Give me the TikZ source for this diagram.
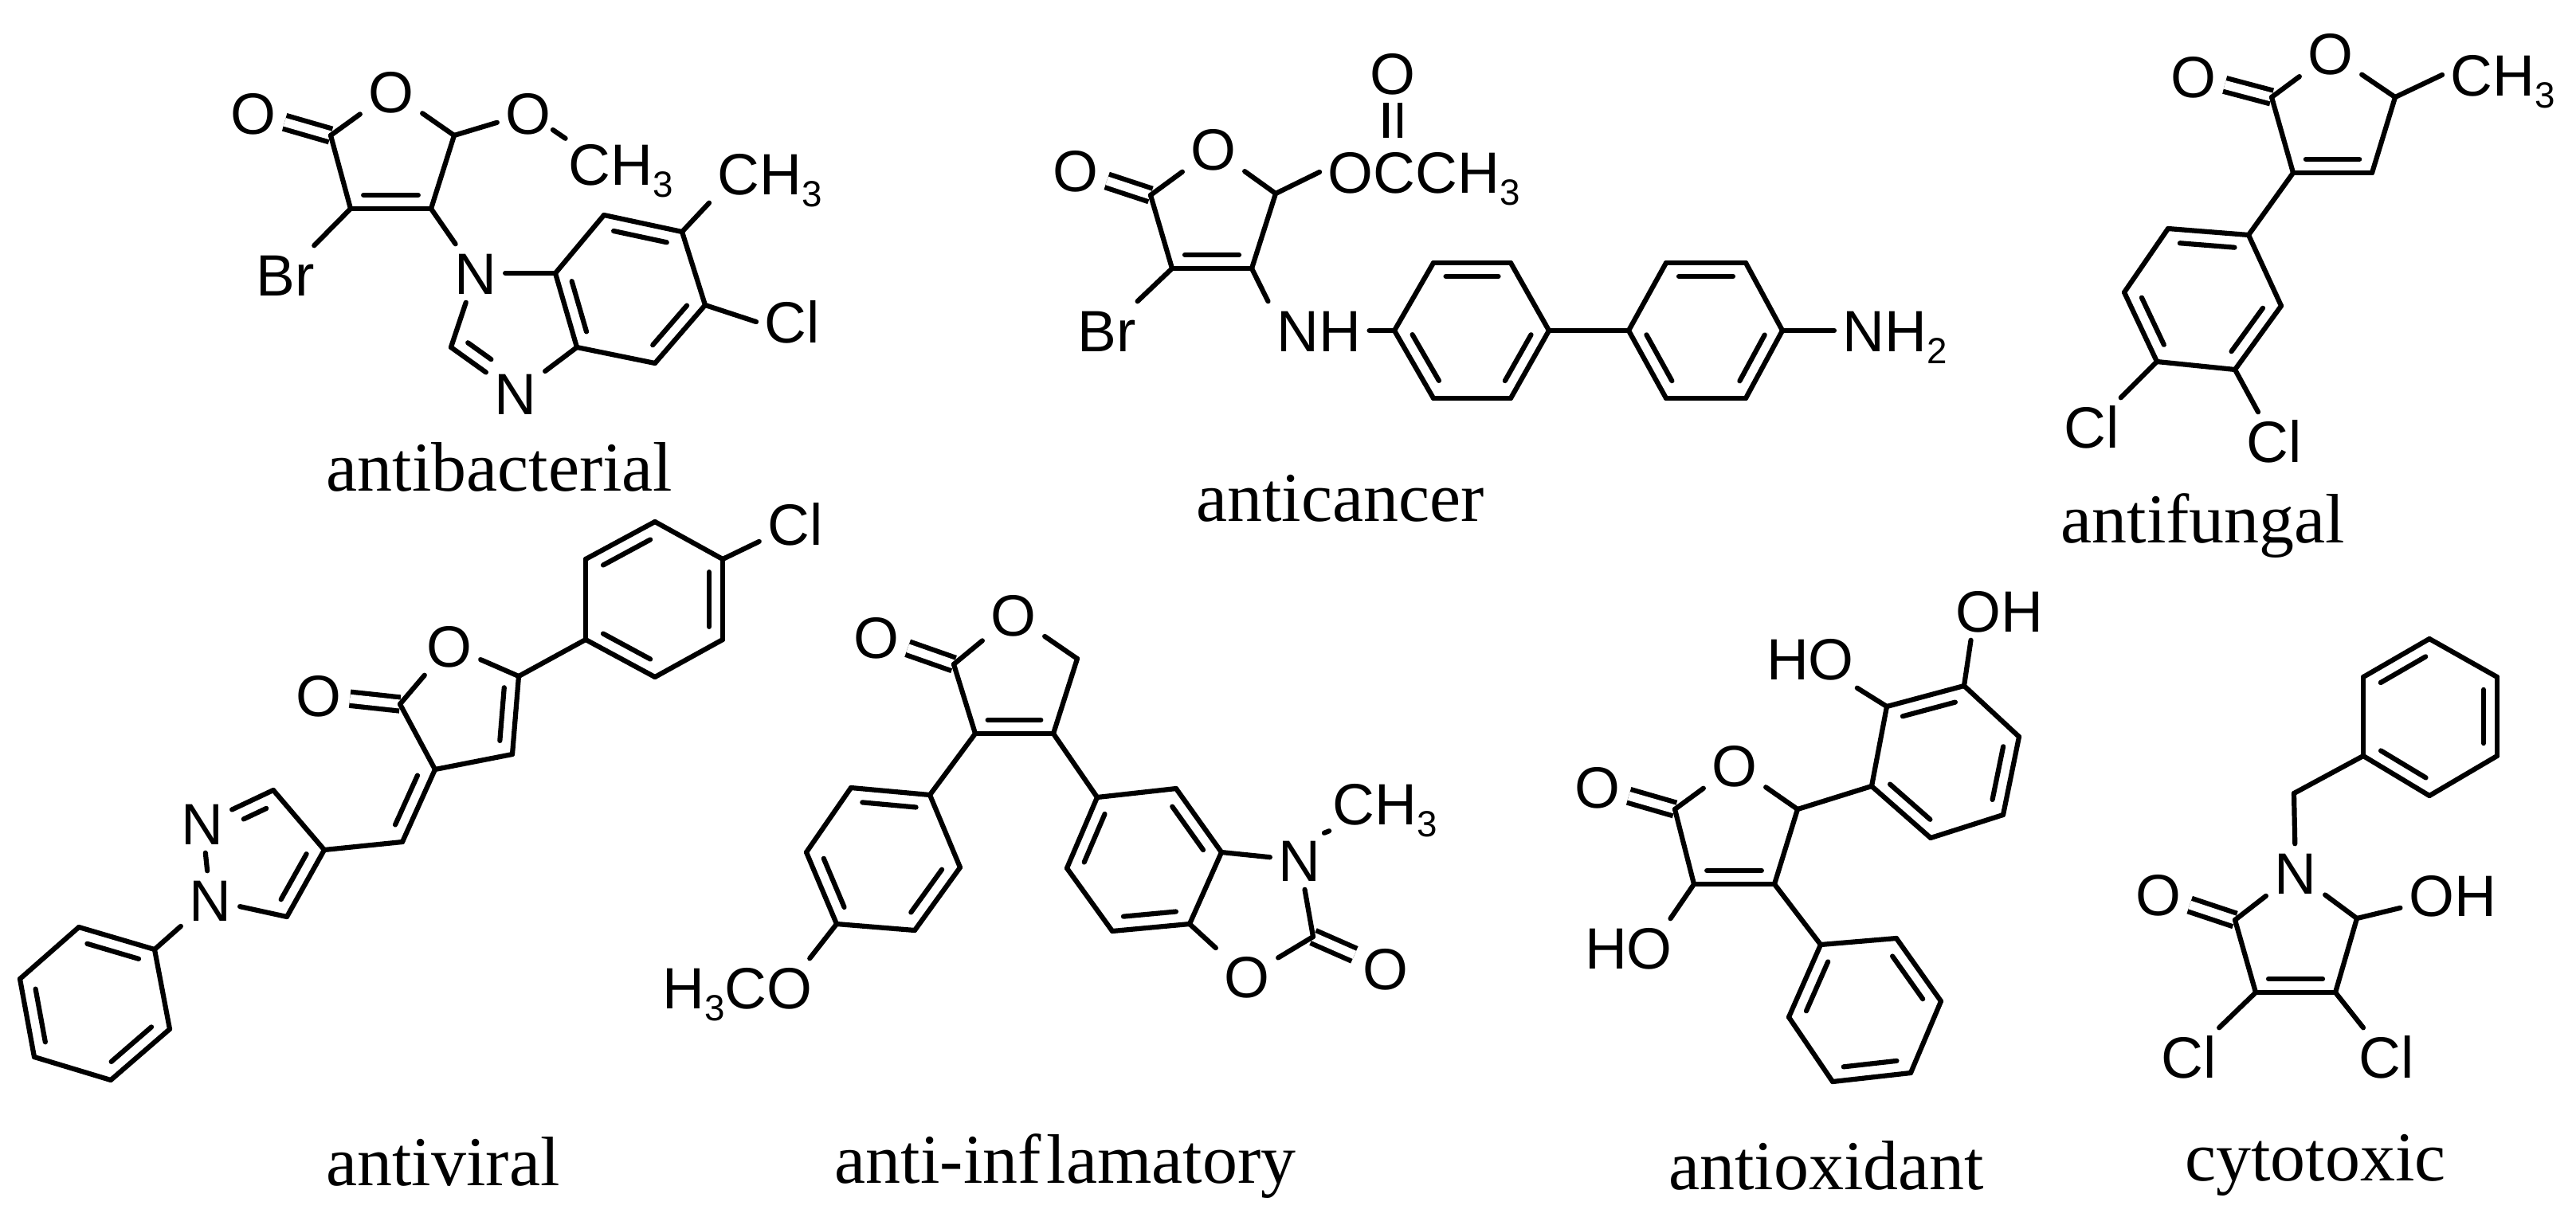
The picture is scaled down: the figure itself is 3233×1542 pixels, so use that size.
\documentclass[tikz,border=0pt]{standalone}
\usepackage{fontspec}
\setmainfont{Liberation Serif}
\newfontfamily\atomfont{Liberation Sans}
\usetikzlibrary{calc}
\newcommand{\atsub}[1]{\raisebox{-4.5pt}{\fontsize{13}{13}\selectfont #1}}
\newcommand{\inbondat}[4]{\draw ($(#3)!#1!(#4)!0.17cm!90:(#4)$) to ($(#4)!#2!(#3)!0.17cm!-90:(#3)$);}
\newcommand{\inbond}[2]{\inbondat{.16}{.16}{#1}{#2}}
\tikzset{
  atom/.style={font=\atomfont\fontsize{20.8}{22}\selectfont,inner sep=0.1cm,text height=14.8pt,text depth=0pt},
  lab/.style={font=\fontsize{25}{28}\selectfont,inner sep=0pt,anchor=base},
  bond/.style={line width=0.062cm,line cap=round},
  keto/.style={double,double distance=0.11cm,line cap=butt}
}
\begin{document}
\begin{tikzpicture}[x=0.01cm,y=-0.01cm]
  \useasboundingbox (0,0) rectangle (3233,1542);
  % antibacterial
  \draw
    (318,142) node[atom] (a1){O}
    (415,170) coordinate (a2)
    (491,115) node[atom] (a3){O}
    (570,170) coordinate (a4)
    (663,142) node[atom] (a5){O}
    (703,206) node[atom,anchor=west] (a6){CH\atsub{3}}
    (541,262) coordinate (a7)
    (440,262) coordinate (a8)
    (358,345) node[atom] (a9){Br}
    (597,343) node[atom] (a10){N}
    (697,343) coordinate (a11)
    (758,270) coordinate (a12)
    (856,291) coordinate (a13)
    (890,218) node[atom,anchor=west] (a14){CH\atsub{3}}
    (885,383) coordinate (a15)
    (949,404) node[atom,anchor=west] (a16){Cl}
    (822,456) coordinate (a17)
    (724,436) coordinate (a18)
    (647,494) node[atom] (a19){N}
    (566,436) coordinate (a20)
    (627,616) node[lab] (a21){antibacterial};
  \begin{scope}[bond]
    \draw[keto] (a1) to (a2);
    \draw (a2) to (a3);
    \draw (a3) to (a4);
    \draw (a4) to (a5);
    \draw[shorten <=-0.1cm,shorten >=-0.08cm] (a5) to (a6.north west);
    \draw (a4) to (a7);
    \draw (a7) to (a8);
    \draw (a8) to (a2);
    \draw (a8) to (a9);
    \draw (a7) to (a10);
    \draw (a10) to (a11);
    \draw (a11) to (a12);
    \draw (a12) to (a13);
    \draw (a13) to (a14.south west);
    \draw (a13) to (a15);
    \draw (a15) to (a16.west);
    \draw (a15) to (a17);
    \draw (a17) to (a18);
    \draw (a18) to (a11);
    \draw (a18) to (a19);
    \draw (a19) to (a20);
    \draw (a20) to (a10);
    \inbond{a8}{a7}
    \inbond{a11}{a18}
    \inbond{a17}{a15}
    \inbond{a13}{a12}
    \inbondat{.14}{.5}{a20}{a19}
  \end{scope}
  % anticancer
  \draw
    (1748,92) node[atom] (b1){O}
    (1748,173) coordinate (b2)
    (1350,214) node[atom] (b3){O}
    (1444,245) coordinate (b4)
    (1523,187) node[atom] (b5){O}
    (1601,243) coordinate (b6)
    (1656,216) node[atom,anchor=west] (b7){OCCH\atsub{3}}
    (1571,337) coordinate (b8)
    (1471,337) coordinate (b9)
    (1389,415) node[atom] (b10){Br}
    (1655,415) node[atom] (b11){NH}
    (1750,415) coordinate (b12)
    (1799,500) coordinate (b13)
    (1896,500) coordinate (b14)
    (1944,415) coordinate (b15)
    (1896,330) coordinate (b16)
    (1799,330) coordinate (b17)
    (2044,415) coordinate (b18)
    (2091,500) coordinate (b19)
    (2191,500) coordinate (b20)
    (2237,415) coordinate (b21)
    (2191,330) coordinate (b22)
    (2091,330) coordinate (b23)
    (2302,415) node[atom,anchor=west] (b24){NH\atsub{2}}
    (1682,654) node[lab] (b25){anticancer};
  \begin{scope}[bond]
    \draw[keto] (b1) to (b2);
    \draw[keto] (b3) to (b4);
    \draw (b4) to (b5);
    \draw (b5) to (b6);
    \draw (b6) to (b7.west);
    \draw (b6) to (b8);
    \draw (b8) to (b9);
    \draw (b9) to (b4);
    \draw (b9) to (b10);
    \draw (b8) to (b11.north west);
    \draw (b11) to (b12);
    \draw (b12) to (b13);
    \draw (b13) to (b14);
    \draw (b14) to (b15);
    \draw (b15) to (b16);
    \draw (b16) to (b17);
    \draw (b17) to (b12);
    \draw (b15) to (b18);
    \draw (b18) to (b19);
    \draw (b19) to (b20);
    \draw (b20) to (b21);
    \draw (b21) to (b22);
    \draw (b22) to (b23);
    \draw (b23) to (b18);
    \draw (b21) to (b24.west);
    \inbond{b9}{b8}
    \inbond{b12}{b13}
    \inbond{b14}{b15}
    \inbond{b16}{b17}
    \inbond{b18}{b19}
    \inbond{b20}{b21}
    \inbond{b22}{b23}
  \end{scope}
  % antifungal
  \draw
    (2753,96) node[atom] (c1){O}
    (2851,122) coordinate (c2)
    (2925,67) node[atom] (c3){O}
    (3006,122) coordinate (c4)
    (3065,94) node[atom,anchor=west] (c5){CH\atsub{3}}
    (2977,217) coordinate (c6)
    (2878,217) coordinate (c7)
    (2822,295) coordinate (c8)
    (2721,287) coordinate (c9)
    (2666,367) coordinate (c10)
    (2707,454) coordinate (c11)
    (2805,464) coordinate (c12)
    (2863,384) coordinate (c13)
    (2625,536) node[atom] (c14){Cl}
    (2854,554) node[atom] (c15){Cl}
    (2765,681) node[lab] (c16){antifungal};
  \begin{scope}[bond]
    \draw[keto] (c1) to (c2);
    \draw (c2) to (c3);
    \draw (c3) to (c4);
    \draw (c4) to (c5.west);
    \draw (c4) to (c6);
    \draw (c6) to (c7);
    \draw (c7) to (c2);
    \draw (c7) to (c8);
    \draw (c8) to (c9);
    \draw (c9) to (c10);
    \draw (c10) to (c11);
    \draw (c11) to (c12);
    \draw (c12) to (c13);
    \draw (c13) to (c8);
    \draw (c11) to (c14);
    \draw (c12) to (c15);
    \inbond{c7}{c6}
    \inbond{c8}{c9}
    \inbond{c10}{c11}
    \inbond{c12}{c13}
  \end{scope}
  % antiviral
  \draw
    (998,658) node[atom] (d1){Cl}
    (907,702) coordinate (d2)
    (822,655) coordinate (d3)
    (735,702) coordinate (d4)
    (735,803) coordinate (d5)
    (822,850) coordinate (d6)
    (907,803) coordinate (d7)
    (651,849) coordinate (d8)
    (564,811) node[atom] (d9){O}
    (502,884) coordinate (d10)
    (400,873) node[atom] (d11){O}
    (546,966) coordinate (d12)
    (643,947) coordinate (d13)
    (505,1057) coordinate (d14)
    (407,1067) coordinate (d15)
    (343,992) coordinate (d16)
    (254,1034) node[atom] (d17){N}
    (264,1130) node[atom] (d18){N}
    (360,1151) coordinate (d19)
    (194,1192) coordinate (d20)
    (99,1164) coordinate (d21)
    (25,1229) coordinate (d22)
    (43,1327) coordinate (d23)
    (139,1356) coordinate (d24)
    (213,1292) coordinate (d25)
    (556,1488) node[lab] (d26){antiviral};
  \begin{scope}[bond]
    \draw[keto] (d11) to (d10);
    \draw (d1) to (d2);
    \draw (d2) to (d3);
    \draw (d3) to (d4);
    \draw (d4) to (d5);
    \draw (d5) to (d6);
    \draw (d6) to (d7);
    \draw (d7) to (d2);
    \draw (d5) to (d8);
    \draw (d8) to (d9);
    \draw (d9) to (d10);
    \draw (d10) to (d12);
    \draw (d12) to (d13);
    \draw (d13) to (d8);
    \draw (d12) to (d14);
    \draw (d14) to (d15);
    \draw (d15) to (d16);
    \draw (d16) to (d17);
    \draw (d17) to (d18);
    \draw (d18) to (d19);
    \draw (d19) to (d15);
    \draw (d18) to (d20);
    \draw (d20) to (d21);
    \draw (d21) to (d22);
    \draw (d22) to (d23);
    \draw (d23) to (d24);
    \draw (d24) to (d25);
    \draw (d25) to (d20);
    \inbond{d3}{d4}
    \inbond{d5}{d6}
    \inbond{d7}{d2}
    \inbond{d13}{d8}
    \inbond{d14}{d12}
    \inbondat{.18}{.5}{d16}{d17}
    \inbond{d19}{d15}
    \inbond{d20}{d21}
    \inbond{d22}{d23}
    \inbond{d24}{d25}
  \end{scope}
  % anti-inflamatory
  \draw
    (1100,800) node[atom] (e1){O}
    (1197,834) coordinate (e2)
    (1272,772) node[atom] (e3){O}
    (1352,827) coordinate (e4)
    (1322,921) coordinate (e5)
    (1224,921) coordinate (e6)
    (1167,998) coordinate (e7)
    (1068,989) coordinate (e8)
    (1012,1070) coordinate (e9)
    (1050,1160) coordinate (e10)
    (1148,1168) coordinate (e11)
    (1205,1089) coordinate (e12)
    (1030,1240) node[atom,anchor=east] (e13){H\atsub{3}CO}
    (1377,1001) coordinate (e14)
    (1476,990) coordinate (e15)
    (1533,1070) coordinate (e16)
    (1493,1160) coordinate (e17)
    (1396,1169) coordinate (e18)
    (1339,1090) coordinate (e19)
    (1631,1080) node[atom] (e20){N}
    (1662,1009) node[atom,anchor=west] (e21){CH\atsub{3}}
    (1565,1226) node[atom] (e22){O}
    (1648,1176) coordinate (e23)
    (1739,1216) node[atom] (e24){O}
    (1337,1485) node[lab] (e25){anti-inf\kern2pt lamatory};
  \begin{scope}[bond]
    \draw[keto] (e1) to (e2);
    \draw[keto] (e24) to (e23);
    \draw (e2) to (e3);
    \draw (e3) to (e4);
    \draw (e4) to (e5);
    \draw (e5) to (e6);
    \draw (e6) to (e2);
    \draw (e6) to (e7);
    \draw (e7) to (e8);
    \draw (e8) to (e9);
    \draw (e9) to (e10);
    \draw (e10) to (e11);
    \draw (e11) to (e12);
    \draw (e12) to (e7);
    \draw (e10) to (e13.22);
    \draw (e5) to (e14);
    \draw (e14) to (e15);
    \draw (e15) to (e16);
    \draw (e16) to (e17);
    \draw (e17) to (e18);
    \draw (e18) to (e19);
    \draw (e19) to (e14);
    \draw (e16) to (e20);
    \draw (e20.north east) to (e21.south west);
    \draw (e20) to (e23);
    \draw (e23) to (e22);
    \draw (e22) to (e17);
    \inbond{e6}{e5}
    \inbond{e7}{e8}
    \inbond{e9}{e10}
    \inbond{e11}{e12}
    \inbond{e14}{e19}
    \inbond{e18}{e17}
    \inbond{e16}{e15}
  \end{scope}
  % antioxidant
  \draw
    (2005,988) node[atom] (f1){O}
    (2102,1016) coordinate (f2)
    (2177,961) node[atom] (f3){O}
    (2256,1016) coordinate (f4)
    (2227,1110) coordinate (f5)
    (2126,1110) coordinate (f6)
    (2044,1190) node[atom] (f7){HO}
    (2349,987) coordinate (f8)
    (2368,887) coordinate (f9)
    (2465,861) coordinate (f10)
    (2534,925) coordinate (f11)
    (2514,1023) coordinate (f12)
    (2423,1052) coordinate (f13)
    (2272,827) node[atom] (f14){HO}
    (2509,767) node[atom] (f15){OH}
    (2285,1186) coordinate (f16)
    (2380,1178) coordinate (f17)
    (2436,1257) coordinate (f18)
    (2398,1347) coordinate (f19)
    (2300,1358) coordinate (f20)
    (2245,1277) coordinate (f21)
    (2292,1493) node[lab] (f22){antioxidant};
  \begin{scope}[bond]
    \draw[keto] (f1) to (f2);
    \draw (f2) to (f3);
    \draw (f3) to (f4);
    \draw (f4) to (f5);
    \draw (f5) to (f6);
    \draw (f6) to (f2);
    \draw (f6) to (f7.35);
    \draw (f4) to (f8);
    \draw (f8) to (f9);
    \draw (f9) to (f10);
    \draw (f10) to (f11);
    \draw (f11) to (f12);
    \draw (f12) to (f13);
    \draw (f13) to (f8);
    \draw (f9) to (f14);
    \draw (f10) to (f15.226);
    \draw (f5) to (f16);
    \draw (f16) to (f17);
    \draw (f17) to (f18);
    \draw (f18) to (f19);
    \draw (f19) to (f20);
    \draw (f20) to (f21);
    \draw (f21) to (f16);
    \inbond{f6}{f5}
    \inbond{f10}{f9}
    \inbond{f12}{f11}
    \inbond{f8}{f13}
    \inbond{f18}{f17}
    \inbond{f20}{f19}
    \inbond{f16}{f21}
  \end{scope}
  % cytotoxic
  \draw
    (2966,949) coordinate (g1)
    (2966,850) coordinate (g2)
    (3049,802) coordinate (g3)
    (3134,850) coordinate (g4)
    (3134,949) coordinate (g5)
    (3049,999) coordinate (g6)
    (2879,996) coordinate (g7)
    (2881,1096) node[atom] (g8){N}
    (2805,1155) coordinate (g9)
    (2709,1123) node[atom] (g10){O}
    (2958,1153) coordinate (g11)
    (3078,1124) node[atom] (g12){OH}
    (2931,1246) coordinate (g13)
    (2831,1246) coordinate (g14)
    (2747,1327) node[atom] (g15){Cl}
    (2995,1327) node[atom] (g16){Cl}
    (2906,1482) node[lab] (g17){cytotoxic};
  \begin{scope}[bond]
    \draw[keto] (g10) to (g9);
    \draw (g1) to (g2);
    \draw (g2) to (g3);
    \draw (g3) to (g4);
    \draw (g4) to (g5);
    \draw (g5) to (g6);
    \draw (g6) to (g1);
    \draw (g1) to (g7);
    \draw (g7) to (g8);
    \draw (g8) to (g9);
    \draw (g8) to (g11);
    \draw (g11) to (g12);
    \draw (g11) to (g13);
    \draw (g13) to (g14);
    \draw (g14) to (g9);
    \draw (g14) to (g15);
    \draw (g13) to (g16);
    \inbond{g3}{g2}
    \inbond{g1}{g6}
    \inbond{g5}{g4}
    \inbond{g14}{g13}
  \end{scope}
\end{tikzpicture}
\end{document}
